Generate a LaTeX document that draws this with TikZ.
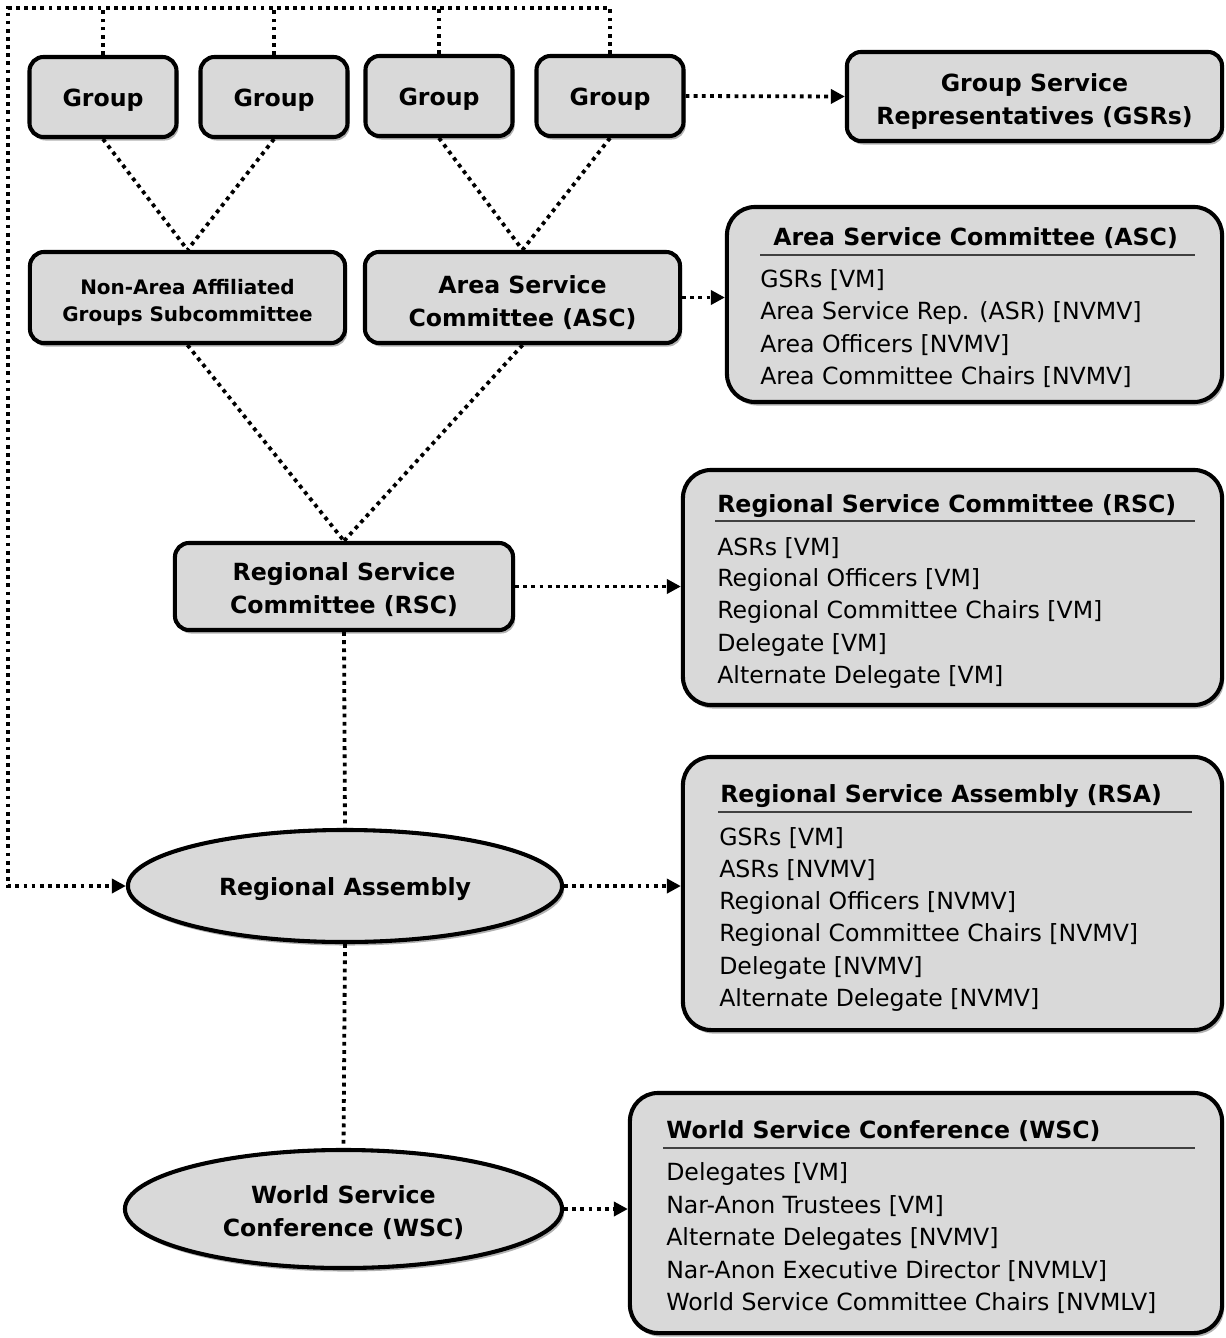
\documentclass[tikz,border=0pt]{standalone}
\usepackage{fontspec}
\setmainfont{DejaVu Sans}
\usetikzlibrary{shapes.geometric,shadows,arrows.meta}
\definecolor{boxgray}{HTML}{D9D9D9}
\tikzset{
    lift/.style={execute at begin node={\rule{0pt}{#1}}},
    block/.style={rectangle, draw, line width=2.9pt, rounded corners=10pt, fill=boxgray,
        align=center, inner sep=2pt, font=\bfseries\fontsize{16.8}{23.5}\selectfont, lift=17.5pt,
        drop shadow={shadow xshift=1.5pt, shadow yshift=-2.5pt, opacity=0.3, fill=black}},
    infobox/.style={block, rounded corners=20pt},
    oval/.style={block, ellipse},
    link/.style={line width=2.7pt, dash pattern=on 2.7pt off 3.1pt},
    boxtitle/.style={anchor=west, inner sep=0pt, font=\bfseries\fontsize{16.8}{23}\selectfont},
    boxitem/.style={anchor=west, inner sep=0pt, font=\fontsize{16.8}{23}\selectfont},
    boxrule/.style={line width=1pt, black!75}
}
\begin{document}
\begin{tikzpicture}[
                        x=0.025cm, y=-0.025cm,
                        >={Triangle[length=10pt,width=10pt]}
                    ]
                    \useasboundingbox (0,0) rectangle (1225,1338);
                    % Blocks
                    \node [block, minimum width=3.675cm, minimum height=2cm] (g1) at (103,97) {Group};
                    \node [block, minimum width=3.675cm, minimum height=2cm] (g2) at (274,97) {Group};
                    \node [block, minimum width=3.675cm, minimum height=2cm] (g3) at (439,96) {Group};
                    \node [block, minimum width=3.675cm, minimum height=2cm] (g4) at (610,96) {Group};
                    \node [block, lift=42.7pt, minimum width=9.375cm, minimum height=2.225cm] (gsr) at (1034.5,96.5) {Group Service\\Representatives (GSRs)};
                    \node [block, lift=37.2pt, minimum width=7.875cm, minimum height=2.275cm, font=\bfseries\fontsize{14.2}{19.2}\selectfont] (naag) at (187.5,297.5) {Non-Area Affiliated\\Groups Subcommittee};
                    \node [block, lift=43.5pt, minimum width=7.875cm, minimum height=2.275cm] (asc) at (522.5,297.5) {Area Service\\Committee (ASC)};
                    \node [block, lift=40.6pt, minimum width=8.45cm, minimum height=2.175cm] (rsc) at (344,586.5) {Regional Service\\Committee (RSC)};
                    \node [oval, minimum width=10.85cm, minimum height=2.8cm] (ra) at (345,886) {Regional Assembly};
                    \node [oval, lift=41.3pt, minimum width=10.925cm, minimum height=2.95cm] (wsc) at (343.5,1209) {World Service\\Conference (WSC)};
                    \coordinate (corner) at (8,8);

                    % Member boxes
                    \node [infobox, minimum width=12.375cm, minimum height=4.875cm] (ascbox) at (974.5,304.5) {};
                    \node [boxtitle] (asctitle) at (773,238.5) {Area Service Committee (ASC)};
                    \draw [boxrule] (760,255) -- (1195,255);
                    \foreach \t [count=\i from 0] in {{GSRs [VM]},{Area Service Rep. (ASR) [NVMV]},{Area Officers [NVMV]},{Area Committee Chairs [NVMV]}}
                        \node [boxitem] (ascitem\i) at (760,280+32.5*\i) {\t};

                    \node [infobox, minimum width=13.475cm, minimum height=5.875cm] (rscbox) at (952.5,587.5) {};
                    \node [boxtitle] (rsctitle) at (717,506.5) {Regional Service Committee (RSC)};
                    \draw [boxrule] (715,521) -- (1195,521);
                    \foreach \t [count=\i from 0] in {{ASRs [VM]},{Regional Officers [VM]},{Regional Committee Chairs [VM]},{Delegate [VM]},{Alternate Delegate [VM]}}
                        \node [boxitem] (rscitem\i) at (717,548+32.2*\i) {\t};

                    \node [infobox, minimum width=13.475cm, minimum height=6.825cm] (rsabox) at (952.5,893.5) {};
                    \node [boxtitle] (rsatitle) at (720,796.5) {Regional Service Assembly (RSA)};
                    \draw [boxrule] (718,812) -- (1192,812);
                    \foreach \t [count=\i from 0] in {{GSRs [VM]},{ASRs [NVMV]},{Regional Officers [NVMV]},{Regional Committee Chairs [NVMV]},{Delegate [NVMV]},{Alternate Delegate [NVMV]}}
                        \node [boxitem] (rsaitem\i) at (719,838+32.4*\i) {\t};

                    \node [infobox, minimum width=14.8cm, minimum height=6cm] (wscbox) at (926,1213) {};
                    \node [boxtitle] (wsctitle) at (666,1131.5) {World Service Conference (WSC)};
                    \draw [boxrule] (663,1148) -- (1195,1148);
                    \foreach \t [count=\i from 0] in {{Delegates [VM]},{Nar-Anon Trustees [VM]},{Alternate Delegates [NVMV]},{Nar-Anon Executive Director [NVMLV]},{World Service Committee Chairs [NVMLV]}}
                        \node [boxitem] (wscitem\i) at (666,1174+32.25*\i) {\t};

                    % Connections
                    \draw [link,->] (g4.north) |- (corner) |- (ra.west);
                    \foreach \g in {g1,g2,g3}
                        \draw [link] (\g.north) -- (\g.north |- corner);
                    \draw [link,->] (g4.east) -- (gsr.west);
                    \draw [link] (g1.south) -- (naag.north);
                    \draw [link] (g2.south) -- (naag.north);
                    \draw [link] (g3.south) -- (asc.north);
                    \draw [link] (g4.south) -- (asc.north);
                    \draw [link,->] (asc.east) -- (asc.east -| ascbox.west);
                    \draw [link] (naag.south) -- (rsc.north);
                    \draw [link] (asc.south) -- (rsc.north);
                    \draw [link,->] (rsc.east) -- (rsc.east -| rscbox.west);
                    \draw [link] (rsc.south) -- (ra.north);
                    \draw [link,->] (ra.east) -- (ra.east -| rsabox.west);
                    \draw [link] (ra.south) -- (wsc.north);
                    \draw [link,->] (wsc.east) -- (wsc.east -| wscbox.west);
                \end{tikzpicture}
\end{document}
